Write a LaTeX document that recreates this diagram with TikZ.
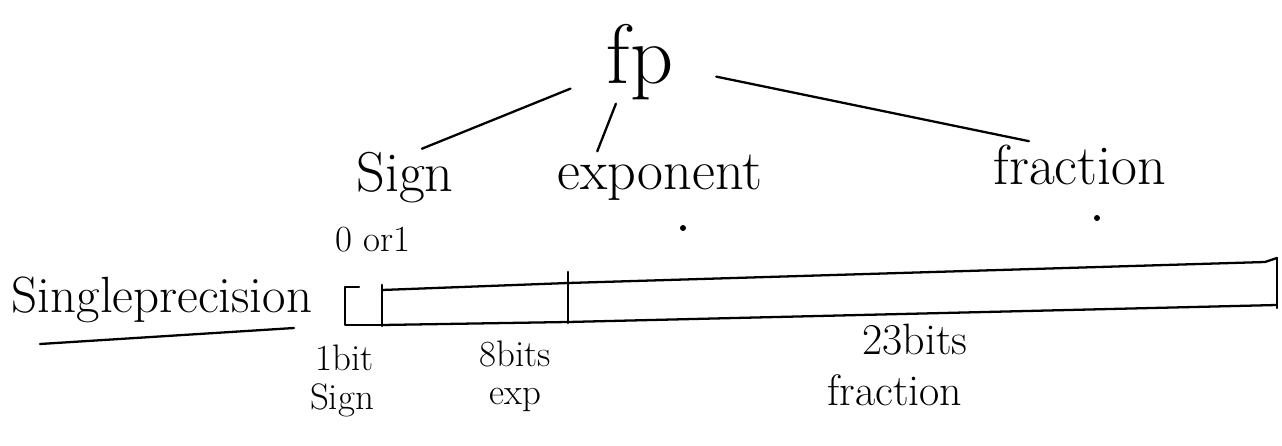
\documentclass[tikz,border=0pt]{standalone}
\usepackage{tikz}
\usetikzlibrary{positioning,calc}

\tikzset{
  big/.style={font=\fontsize{32}{36}\selectfont, inner sep=2pt},
  small/.style={font=\fontsize{21}{22}\selectfont, inner sep=0pt},
  pen/.style={line width=1.3pt, line cap=round, line join=round},
}

\begin{document}
\begin{tikzpicture}[x=0.02cm, y=-0.02cm]
	%% page size in pixels of the sketch
	\useasboundingbox (0,0) rectangle (1282,446);

	% the tree
	\node[big, font=\fontsize{48}{52}\selectfont] (fp) at (640,62) {fp};
	\node[big] (sign) at (405,178) {Sign};
	\node[big] (expo) at (660,178) {exponent};
	\node[big] (frac) at (1080,165) {fraction};

	\draw[pen, shorten <=0.7cm] (fp.200) -- (sign.60);
	\draw[pen] (fp.240) -- (expo.157);
	\draw[pen, shorten <=0.8cm] (fp.-10) -- (frac.155);

	% little dots under exponent and fraction
	\fill (683,228) circle (3);
	\fill (1097,218) circle (3);

	\node[small] (zeroone) at (373,240) {0 or1};

	% single precision word
	\node[small, font=\fontsize{29}{30}\selectfont] (single) at (162,300) {Singleprecision};
	\draw[pen] (40,344) -- (294,328);

	% the word as a strip of bits
	\def\xa{345}  % left end
	\def\xb{382}  % sign bit ends
	\def\xc{568}  % exponent ends
	\def\xd{1277} % right end
	\coordinate (tl) at (\xa,287);
	\coordinate (bl) at (\xa,325);
	\draw[pen] (\xa+14,287) -- (tl) -- (bl) -- (\xb,325);
	\draw[pen] (\xb,285) -- (\xb,326);
	\draw[pen] (\xb,290) -- (\xc,283) -- (1265,262) -- (\xd,258);
	\draw[pen] (\xb,325) -- (\xc,322) -- (\xd,305);
	\draw[pen] (\xc,272) -- (\xc,323);
	\draw[pen] (\xd,258) -- (\xd,308);

	% what the bits are
	\node[small] (onebit) at (345,358) {1bit};
	\node[small] (onesign) at (342,400) {Sign};
	\node[small] (eightbit) at (515,354) {8bits};
	\node[small] (eightexp) at (515,400) {exp};
	\node[small, font=\fontsize{25}{27}\selectfont] (ttbits) at (915,340) {23bits};
	\node[small, font=\fontsize{25}{27}\selectfont] (ttfrac) at (895,390) {fraction};
\end{tikzpicture}
\end{document}
